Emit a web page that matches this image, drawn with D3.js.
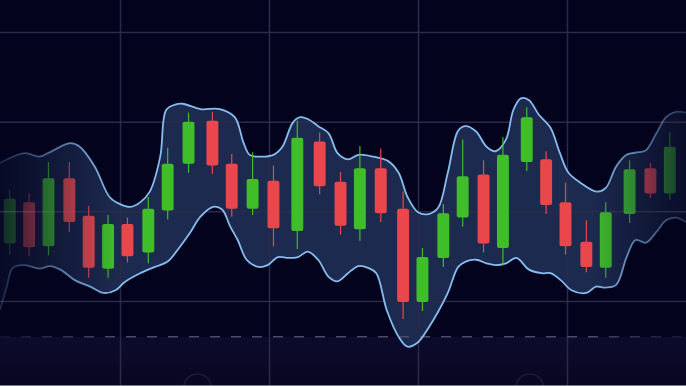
<!DOCTYPE html>
<html>
<head>
<meta charset="utf-8">
<script src="https://cdn.jsdelivr.net/npm/d3@7/dist/d3.min.js"></script>
<style>
  html, body { margin: 0; padding: 0; background: #03031d; overflow: hidden; }
</style>
</head>
<body>
<div id="chart"></div>
<script>
// candle data (time units, price units)
const times  = [2.6, 3.9, 5.2, 6.6, 7.9, 9.2, 10.5, 11.9, 13.2, 14.6, 16.2, 17.5, 18.9, 20.3, 21.9, 23.4, 24.8,
                26.1, 27.5, 29.0, 30.3, 31.7, 33.0, 34.4, 35.7, 37.3, 38.6, 39.9, 41.3, 42.6, 44.2, 45.6, 46.9];
const opens  = [116.4, 121.0, 116.1, 123.7, 119.5, 113.6, 118.6, 115.4, 120.1, 125.3, 130.1, 125.3, 120.3, 123.4, 117.8, 127.8, 123.3,
                118.0, 124.8, 120.3, 109.9, 114.8, 119.3, 124.1, 115.9, 125.5, 125.8, 121.0, 116.6, 113.7, 119.7, 124.8, 122.0];
const highs  = [122.4, 122.0, 125.5, 125.5, 120.6, 119.6, 119.3, 121.6, 127.1, 131.0, 131.1, 126.4, 126.6, 125.1, 130.1, 128.8, 124.4,
                127.3, 127.0, 122.2, 115.9, 120.8, 128.0, 125.7, 128.3, 131.6, 126.7, 123.2, 119.0, 121.0, 125.7, 125.4, 128.8];
const lows   = [115.2, 115.0, 115.1, 117.7, 112.6, 112.6, 114.3, 114.2, 119.1, 124.3, 124.2, 119.4, 119.6, 116.1, 115.8, 121.9, 117.4,
                116.7, 118.8, 108.0, 108.9, 113.8, 118.3, 115.4, 114.0, 124.5, 119.7, 115.2, 113.2, 112.6, 118.7, 121.5, 121.3];
const closes = [121.4, 116.0, 123.7, 118.8, 113.7, 118.6, 115.0, 120.3, 125.3, 130.0, 125.1, 120.3, 123.6, 118.1, 128.2, 122.8, 118.4,
                124.8, 119.8, 109.9, 114.9, 119.8, 123.9, 116.4, 126.3, 130.5, 120.7, 116.1, 113.8, 119.9, 124.7, 122.0, 127.2];

// band envelope
const upperT = [1.95, 3.6, 4.6, 5.3, 6.65, 7.3, 8.3, 9.3, 10.0, 10.7, 11.35, 12.0, 12.7, 13.1, 13.7, 14.2, 15.4, 16.7, 17.7, 18.3,
                18.7, 19.3, 20.3, 20.9, 21.6, 22.1, 22.6, 23.3, 24.0, 24.6, 25.3, 26.0, 27.0, 28.0, 28.7, 29.3, 30.0, 30.7, 31.35, 32.0,
                32.7, 33.2, 33.9, 34.6, 35.2, 35.9, 36.4, 36.9, 37.45, 38.1, 38.9, 39.5, 40.1, 40.9, 42.0, 42.6, 43.3, 44.0, 44.8, 45.3,
                46.0, 46.65, 47.3, 48.0];
const upper  = [125.4, 126.5, 126.1, 126.6, 127.6, 127.2, 125.0, 121.6, 120.8, 120.5, 121.0, 122.2, 126.1, 131.3, 131.9, 132.0, 131.4, 131.4, 130.5, 127.6,
                126.3, 126.1, 126.3, 127.2, 129.9, 130.5, 130.3, 129.5, 128.7, 126.5, 125.8, 126.3, 126.1, 125.6, 124.3, 121.6, 119.9, 119.7, 120.4, 124.3,
                129.0, 129.5, 128.9, 127.2, 126.7, 128.0, 131.3, 132.6, 132.4, 130.8, 129.3, 126.6, 124.3, 123.2, 122.2, 122.6, 125.0, 126.3, 126.6, 126.8,
                128.7, 130.5, 131.1, 131.0];
const lowerT = [1.95, 2.4, 2.8, 3.6, 4.6, 5.3, 6.0, 7.0, 8.0, 8.9, 9.7, 10.3, 11.35, 12.35, 13.2, 14.0, 14.7, 15.4, 16.25, 16.85,
                17.4, 17.9, 18.5, 19.3, 19.9, 20.6, 21.3, 21.95, 22.6, 23.3, 24.0, 24.6, 25.3, 26.0, 26.65, 27.2, 27.9, 28.7, 29.3, 30.0,
                30.7, 31.35, 32.0, 32.7, 33.2, 33.9, 34.6, 35.2, 35.9, 36.6, 37.45, 38.3, 38.9, 39.6, 40.3, 41.3, 41.95, 42.6, 43.3, 44.0,
                44.6, 45.3, 46.0, 46.65, 47.3, 48.0];
const lower  = [109.0, 111.6, 113.7, 114.0, 113.6, 113.9, 113.5, 112.3, 111.6, 110.9, 111.2, 112.1, 113.1, 113.8, 114.4, 116.0, 117.6, 119.4, 120.5, 120.2,
                118.3, 116.8, 114.6, 113.8, 114.0, 114.9, 114.8, 114.9, 115.5, 114.6, 112.7, 112.2, 113.1, 113.9, 113.7, 113.1, 109.0, 106.0, 104.9, 105.4,
                107.0, 108.8, 110.9, 113.8, 114.4, 114.6, 114.2, 114.0, 114.2, 114.8, 113.5, 113.1, 113.1, 112.3, 111.2, 110.9, 111.6, 111.5, 111.8, 114.9,
                116.8, 116.5, 117.7, 119.0, 119.3, 118.8];

const gridTimes = [10, 20, 30, 40];
const gridPrices = [110, 120, 130, 140];
const baseline = 106;

const width = 686;
const height = 386;

const GREEN = "#3fbe2a";
const RED = "#e9474c";
const BAND_FILL = "#1d2a4f";
const BAND_LINE = "#86bdf0";
const GRID = "#2b2b47";

const svg = d3.select("#chart").append("svg")
    .attr("width", width).attr("height", height)
    .style("display", "block")
    .style("background-color", "#03031d");

const x = d3.scaleLinear().domain([10, 40]).range([120, 567]);
const y = d3.scaleLinear().domain([110, 140]).range([301, 32]);

const defs = svg.append("defs");

// fade toward the left and right edges
const fade = defs.append("linearGradient").attr("id", "fade")
    .attr("gradientUnits", "userSpaceOnUse")
    .attr("x1", 0).attr("x2", width).attr("y1", 0).attr("y2", 0);
[[0, 0.18], [0.17, 1], [0.86, 1], [1, 0.25]].forEach(([o, a]) =>
    fade.append("stop").attr("offset", o).attr("stop-color", "#fff").attr("stop-opacity", a));
defs.append("mask").attr("id", "edge-mask")
    .attr("maskUnits", "userSpaceOnUse")
    .attr("x", 0).attr("y", 0).attr("width", width).attr("height", height)
    .append("rect").attr("width", width).attr("height", height).attr("fill", "url(#fade)");

// lower strip under the baseline
const floor = defs.append("linearGradient").attr("id", "floor")
    .attr("x1", 0).attr("x2", 0).attr("y1", 0).attr("y2", 1);
floor.append("stop").attr("offset", 0).attr("stop-color", "#0d0b2d");
floor.append("stop").attr("offset", 1).attr("stop-color", "#080720");

svg.append("rect")
    .attr("x", 0).attr("y", y(baseline)).attr("width", width).attr("height", height - y(baseline))
    .attr("fill", "url(#floor)");

// band fill
const upperPts = upperT.map((t, i) => [x(t), y(upper[i])]);
const lowerPts = lowerT.map((t, i) => [x(t), y(lower[i])]);
const curve = d3.line().curve(d3.curveCatmullRom.alpha(0.5));

const bandG = svg.append("g").attr("mask", "url(#edge-mask)");
bandG.append("path")
    .attr("d", curve(upperPts) + curve(lowerPts.slice().reverse()).replace(/^M/, "L") + "Z")
    .attr("fill", BAND_FILL);

// grid
svg.append("g").selectAll("line").data(gridPrices).join("line")
    .attr("x1", 0).attr("x2", width)
    .attr("y1", d => y(d) + 0.5).attr("y2", d => y(d) + 0.5)
    .attr("stroke", GRID).attr("stroke-width", 1.5);
svg.append("g").selectAll("line").data(gridTimes).join("line")
    .attr("y1", 0).attr("y2", height)
    .attr("x1", d => x(d) + 0.5).attr("x2", d => x(d) + 0.5)
    .attr("stroke", GRID).attr("stroke-width", 1.5);

// dashed baseline
svg.append("line")
    .attr("x1", 0).attr("x2", width)
    .attr("y1", y(baseline)).attr("y2", y(baseline))
    .attr("stroke", "#4b4a68").attr("stroke-width", 1.5)
    .attr("stroke-dasharray", "10,11")
    .attr("mask", "url(#edge-mask)");

// faint arcs at the bottom
svg.append("g").selectAll("circle").data([15.2, 37.5]).join("circle")
    .attr("cx", d => x(d)).attr("cy", height + 2).attr("r", 14)
    .attr("fill", "none").attr("stroke", "#1b1b3c").attr("stroke-width", 1.5);

// band outlines and candles
const topG = svg.append("g").attr("mask", "url(#edge-mask)");
topG.append("path").attr("d", curve(upperPts))
    .attr("fill", "none").attr("stroke", BAND_LINE).attr("stroke-width", 1.8);
topG.append("path").attr("d", curve(lowerPts))
    .attr("fill", "none").attr("stroke", BAND_LINE).attr("stroke-width", 1.8);

const half = 0.4;
const candles = topG.append("g").selectAll("g").data(times).join("g");
candles.append("line")
    .attr("x1", d => x(d)).attr("x2", d => x(d))
    .attr("y1", (d, i) => y(highs[i])).attr("y2", (d, i) => y(lows[i]))
    .attr("stroke", (d, i) => closes[i] >= opens[i] ? GREEN : RED)
    .attr("stroke-width", 1.2);
candles.append("rect")
    .attr("x", d => x(d - half))
    .attr("width", d => x(d + half) - x(d - half))
    .attr("y", (d, i) => y(Math.max(opens[i], closes[i])))
    .attr("height", (d, i) => Math.abs(y(opens[i]) - y(closes[i])))
    .attr("rx", 2)
    .attr("fill", (d, i) => closes[i] >= opens[i] ? GREEN : RED);

// thin frame line at the very bottom
svg.append("rect").attr("x", 0).attr("y", height - 1).attr("width", width).attr("height", 1)
    .attr("fill", "#7d7d90");
</script>
</body>
</html>
